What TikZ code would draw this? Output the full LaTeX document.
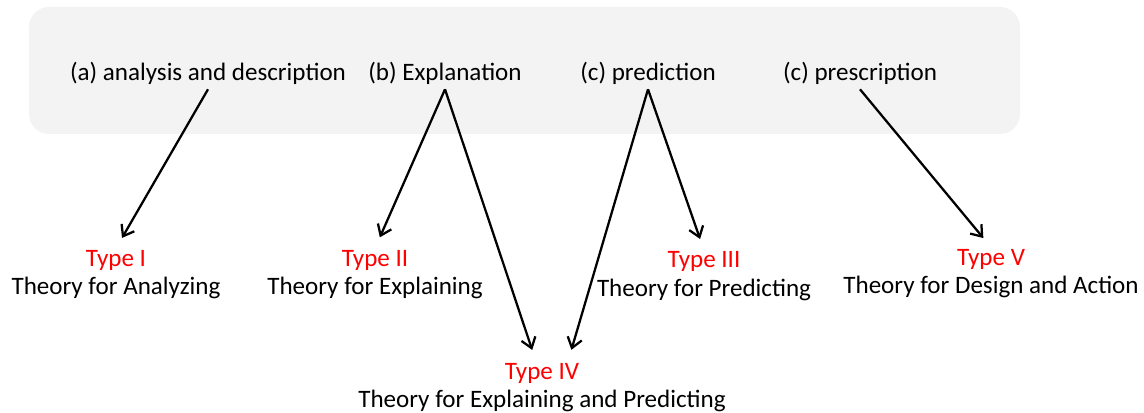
\documentclass[tikz,border=0pt]{standalone}
\usepackage{fontspec}
\setmainfont{Carlito}
\usepackage{xcolor}
\usetikzlibrary{arrows.meta}

\definecolor{panelgray}{HTML}{F3F3F3}
\definecolor{typered}{HTML}{FF0000}

\begin{document}
\begin{tikzpicture}[
  x=0.75pt, y=-0.75pt,
  purpose/.style={anchor=base, inner sep=3pt, font=\fontsize{18.8}{21}\selectfont},
  theory/.style={anchor=base, inner sep=1pt, align=center, font=\fontsize{18.8}{21}\selectfont},
  arr/.style={-{Straight Barb[length=7.5pt, width=11pt]}, line width=1.7pt, shorten >=9pt}
]
\useasboundingbox (0,0) rectangle (1144,413);

% grey band behind the four purposes
\fill[panelgray, rounded corners=15pt] (29,7) rectangle (1020,134);

\node[purpose] (anl) at (208,81) {(a) analysis and description};
\node[purpose] (expl) at (445,81) {(b) Explanation};
\node[purpose] (pred) at (648,81) {(c) prediction};
\node[purpose] (presc) at (860,81) {(c) prescription};

\node[theory] (t1) at (116,294) {\textcolor{typered}{Type I}\\Theory for Analyzing};
\node[theory] (t2) at (375,294) {\textcolor{typered}{Type II}\\Theory for Explaining};
\node[theory] (t3) at (704,296) {\textcolor{typered}{Type III}\\Theory for Predicting};
\node[theory] (t5) at (991,293) {\textcolor{typered}{Type V}\\Theory for Design and Action};
\node[theory] (t4) at (542,407) {\textcolor{typered}{Type IV}\\Theory for Explaining and Predicting};

\draw[arr] (anl.south) -- (t1.north);
\draw[arr] (expl.south) -- (t2.north);
\draw[arr] (expl.south) -- ([xshift=-4.5pt]t4.north);
\draw[arr] (pred.south) -- ([xshift=19.5pt]t4.north);
\draw[arr] (pred.south) -- (t3.north);
\draw[arr] (presc.south) -- (t5.north);

\end{tikzpicture}
\end{document}
